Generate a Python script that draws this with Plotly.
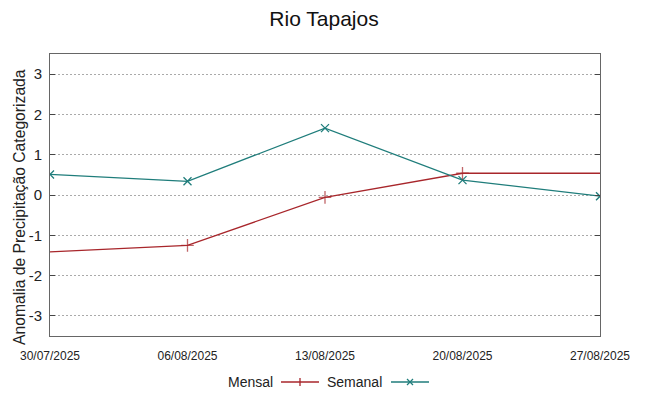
import plotly.graph_objects as go

dates = ["30/07/2025", "06/08/2025", "13/08/2025", "20/08/2025", "27/08/2025"]
mensal = [-1.41, -1.25, -0.06, 0.54, 0.54]
semanal = [0.51, 0.34, 1.66, 0.37, -0.03]
yticks = [-3, -2, -1, 0, 1, 2, 3]
yticklabels = ["-3", "-2", "-1", "0", "1", "2", "3"]

red = "#a8262b"
teal = "#1f7d7b"
FONT = "Liberation Sans"

fig = go.Figure()
fig.add_trace(go.Scatter(x=dates, y=mensal, mode="lines", name="Mensal",
                         line=dict(color=red, width=1.3), showlegend=False))
fig.add_trace(go.Scatter(x=dates, y=semanal, mode="lines+markers", name="Semanal",
                         line=dict(color=teal, width=1.3),
                         marker=dict(symbol="x-thin", size=8,
                                     line=dict(color=teal, width=1.3)),
                         showlegend=False))
fig.add_trace(go.Scatter(x=dates, y=mensal, mode="markers", hoverinfo="skip",
                         marker=dict(symbol="cross-thin", size=[0, 9, 9, 9, 0],
                                     line=dict(color=red, width=1.3)),
                         showlegend=False))

W, H = 648, 396
L, R, T, B = 50, 48, 54, 60
pw, ph = W - L - R, H - T - B

def px(x):
    return (x - L) / pw

def py(y):
    return (H - B - y) / ph

fig.update_layout(
    width=W, height=H,
    margin=dict(l=L, r=R, t=T, b=B, autoexpand=False),
    paper_bgcolor="white", plot_bgcolor="white",
    font=dict(family=FONT, color="#222"),
    title=dict(text="Rio Tapajos", x=0.5, xanchor="center", y=1 - 19 / H, yanchor="middle",
               font=dict(size=21, family=FONT, color="#111")),
    xaxis=dict(type="category", range=[0, 4], showgrid=False, zeroline=False,
               showline=True, linecolor="#666", linewidth=1, mirror=True,
               ticks="", tickfont=dict(size=12, family=FONT, color="#222"),
               ticklabelstandoff=9, tickangle=0, automargin=False),
    yaxis=dict(range=[-3.5, 3.5], tickvals=yticks, ticktext=yticklabels, showgrid=True,
               gridcolor="#aaaaaa", griddash="2px,2px", gridwidth=1, zeroline=False,
               showline=True, linecolor="#666", linewidth=1, mirror="allticks",
               ticks="inside", ticklen=5, tickcolor="#444", automargin=False,
               ticklabelstandoff=4,
               tickfont=dict(size=15, family=FONT, color="#222")),
)

# y-axis title as rotated text (slightly offset below centre, as in reference)
fig.add_annotation(x=px(19), y=py(207), xref="paper", yref="paper",
                   text="Anomalia de Precipitação Categorizada", textangle=-90,
                   showarrow=False, xanchor="center", yanchor="middle",
                   font=dict(size=15.7, family=FONT, color="#222"))

# custom legend (text before key, as in reference)
ly = py(382)
fig.add_annotation(x=px(275), y=ly, xref="paper", yref="paper", text="Mensal",
                   showarrow=False, xanchor="right", yanchor="middle",
                   font=dict(size=14, family=FONT, color="#222"))
fig.add_shape(type="line", xref="paper", yref="paper", x0=px(281), x1=px(319), y0=ly, y1=ly,
              line=dict(color=red, width=1.3))
fig.add_shape(type="line", xref="paper", yref="paper", x0=px(300), x1=px(300),
              y0=py(378), y1=py(386), line=dict(color=red, width=1.3))
fig.add_annotation(x=px(384), y=ly, xref="paper", yref="paper", text="Semanal",
                   showarrow=False, xanchor="right", yanchor="middle",
                   font=dict(size=14, family=FONT, color="#222"))
fig.add_shape(type="line", xref="paper", yref="paper", x0=px(391), x1=px(429), y0=ly, y1=ly,
              line=dict(color=teal, width=1.3))
fig.add_shape(type="line", xref="paper", yref="paper", x0=px(407), x1=px(413),
              y0=py(379), y1=py(385), line=dict(color=teal, width=1.3))
fig.add_shape(type="line", xref="paper", yref="paper", x0=px(407), x1=px(413),
              y0=py(385), y1=py(379), line=dict(color=teal, width=1.3))

fig.write_html("out.html", config={"displayModeBar": False},
               post_script="document.body.style.margin='0';")
